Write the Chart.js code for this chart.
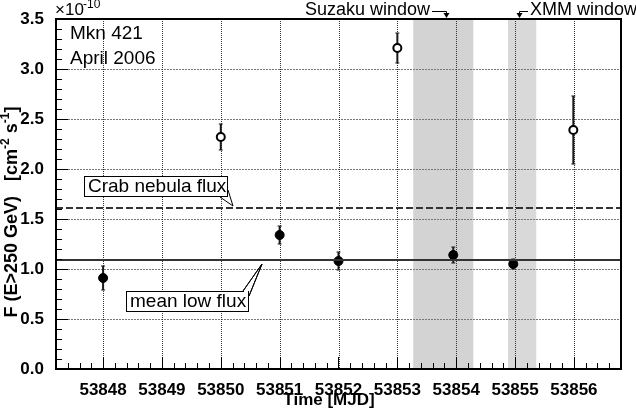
<!DOCTYPE html>
<html>
<head>
<meta charset="utf-8">
<script src="https://cdn.jsdelivr.net/npm/chart.js@4.4.1/dist/chart.umd.min.js"></script>
<style>
    html, body { margin: 0; padding: 0; background: #fff; }
    #wrap { width: 636px; height: 410px; }
</style>
</head>
<body>
<div id="wrap"><canvas id="lightCurve"></canvas></div>
<script>
// Mkn 421 nightly flux, units of 1e-10 cm^-2 s^-1
const lowTimes = [53848.0, 53851.0, 53852.0, 53853.95, 53854.97];
const lowFlux = [0.91, 1.34, 1.08, 1.14, 1.05];
const lowErr = [0.12, 0.09, 0.09, 0.08, 0.05];

const highTimes = [53850.0, 53853.0, 53855.99];
const highFlux = [2.32, 3.21, 2.39];
const highErr = [0.13, 0.15, 0.34];

const crabFlux = 1.61;
const meanLowFlux = 1.09;

const suzakuWindow = [53853.27, 53854.29];
const xmmWindow = [53854.88, 53855.36];

const timeRange = [53847.2, 53856.8];
const fluxRange = [0, 3.5];
const timeTicks = [53848, 53849, 53850, 53851, 53852, 53853, 53854, 53855, 53856];
const fluxTicks = [0, 0.5, 1.0, 1.5, 2.0, 2.5, 3.0, 3.5];

const FONT = "'Liberation Sans', Arial, Helvetica, sans-serif";

document.addEventListener('DOMContentLoaded', function() {
    const ctx = document.getElementById('lightCurve').getContext('2d');

    // grey observation windows, drawn first
    const windowBands = {
        id: 'windowBands',
        beforeDraw: function(chart) {
            const c = chart.ctx, x = chart.scales.x, a = chart.chartArea;
            c.save();
            c.fillStyle = '#d3d3d3';
            c.fillRect(x.getPixelForValue(suzakuWindow[0]), a.top,
                x.getPixelForValue(suzakuWindow[1]) - x.getPixelForValue(suzakuWindow[0]), a.bottom - a.top);
            c.fillStyle = '#d9d9d9';
            c.fillRect(x.getPixelForValue(xmmWindow[0]), a.top,
                x.getPixelForValue(xmmWindow[1]) - x.getPixelForValue(xmmWindow[0]), a.bottom - a.top);
            c.restore();
        }
    };

    // dotted grid on the major ticks, then vertical error bars
    const gridAndErrors = {
        id: 'gridAndErrors',
        beforeDatasetsDraw: function(chart) {
            const c = chart.ctx, x = chart.scales.x, y = chart.scales.y, a = chart.chartArea;
            c.save();
            c.beginPath();
            c.rect(a.left, a.top, a.right - a.left, a.bottom - a.top);
            c.clip();
            c.lineWidth = 1;
            c.strokeStyle = '#777';
            c.setLineDash([2, 1]);
            c.beginPath();
            y.ticks.forEach(function(t) {
                const py = Math.round(y.getPixelForValue(t.value)) + 0.5;
                c.moveTo(a.left, py);
                c.lineTo(a.right, py);
            });
            c.stroke();
            c.strokeStyle = '#333';
            c.setLineDash([1, 1]);
            c.beginPath();
            x.ticks.forEach(function(t) {
                const px = Math.round(x.getPixelForValue(t.value)) + 0.5;
                c.moveTo(px, a.top);
                c.lineTo(px, a.bottom);
            });
            c.stroke();
            c.setLineDash([]);

            const sets = [[lowTimes, lowFlux, lowErr], [highTimes, highFlux, highErr]];
            c.strokeStyle = '#1a1a1a';
            sets.forEach(function(s) {
                for (let i = 0; i < s[0].length; i++) {
                    const px = x.getPixelForValue(s[0][i]);
                    const top = y.getPixelForValue(s[1][i] + s[2][i]);
                    const bot = y.getPixelForValue(s[1][i] - s[2][i]);
                    c.lineWidth = 2;
                    c.beginPath();
                    c.moveTo(px, top);
                    c.lineTo(px, bot);
                    c.stroke();
                    c.lineWidth = 1;
                    c.beginPath();
                    c.moveTo(px - 2, top); c.lineTo(px + 2, top);
                    c.moveTo(px - 2, bot); c.lineTo(px + 2, bot);
                    c.stroke();
                }
            });
            c.restore();
        }
    };

    function callout(c, box, text, lines, tip) {
        c.fillStyle = '#fff';
        c.fillRect(box[0], box[1], box[2] - box[0], box[3] - box[1]);
        c.strokeStyle = '#000';
        c.lineWidth = 1;
        c.strokeRect(box[0] + 0.5, box[1] + 0.5, box[2] - box[0], box[3] - box[1]);
        c.beginPath();
        lines.forEach(function(p) {
            c.moveTo(p[0], p[1]);
            c.lineTo(tip[0], tip[1]);
        });
        c.stroke();
        c.fillStyle = '#000';
        c.font = '19px ' + FONT;
        c.textAlign = 'left';
        c.textBaseline = 'middle';
        c.fillText(text, box[0] + 4, (box[1] + box[3]) / 2 + 1);
    }

    function downArrow(c, xa, ya, yb) {
        c.beginPath();
        c.moveTo(xa, ya);
        c.lineTo(xa, yb - 4);
        c.stroke();
        c.beginPath();
        c.moveTo(xa - 3, yb - 5);
        c.lineTo(xa + 3, yb - 5);
        c.lineTo(xa, yb);
        c.closePath();
        c.fill();
    }

    // frame, inward ticks, labels and annotations
    const decorations = {
        id: 'decorations',
        afterDraw: function(chart) {
            const c = chart.ctx, a = chart.chartArea, x = chart.scales.x, y = chart.scales.y;
            c.save();
            c.strokeStyle = '#000';
            c.lineWidth = 1;
            c.beginPath();
            for (let v = timeRange[0]; v <= timeRange[1] + 1e-6; v += 0.2) {
                const px = Math.round(x.getPixelForValue(v)) + 0.5;
                const major = Math.abs(v - Math.round(v)) < 1e-6;
                c.moveTo(px, a.bottom);
                c.lineTo(px, a.bottom - (major ? 12 : 6));
            }
            for (let v = fluxRange[0]; v <= fluxRange[1] + 1e-6; v += 0.1) {
                const py = Math.round(y.getPixelForValue(v)) + 0.5;
                const major = Math.abs(v * 2 - Math.round(v * 2)) < 1e-6;
                c.moveTo(a.left, py);
                c.lineTo(a.left + (major ? 12 : 6), py);
            }
            c.stroke();

            c.lineWidth = 2;
            c.strokeRect(a.left, a.top, a.right - a.left, a.bottom - a.top);

            const yCrab = y.getPixelForValue(crabFlux);
            const yMean = y.getPixelForValue(meanLowFlux);
            callout(c, [84, 176, 227, 196], 'Crab nebula flux', [[220, 197], [228, 190]], [233, yCrab - 2]);
            callout(c, [126, 291, 248, 311], 'mean low flux', [[243, 291], [249, 296]], [262, yMean + 4]);
            c.fillStyle = '#fff';
            c.fillRect(244, 290, 4, 3);
            c.strokeStyle = '#000';
            c.beginPath();
            c.moveTo(243, 291); c.lineTo(262, yMean + 4);
            c.moveTo(249, 296); c.lineTo(262, yMean + 4);
            c.stroke();

            c.fillStyle = '#000';
            c.font = '19px ' + FONT;
            c.textAlign = 'left';
            c.textBaseline = 'middle';
            c.fillText('Mkn 421', 70, 34);
            c.fillText('April 2006', 70, 59);

            c.font = '18px ' + FONT;
            c.textAlign = 'right';
            c.fillText('Suzaku window', 430, 10);
            c.textAlign = 'left';
            c.fillText('XMM window', 530, 10);
            c.lineWidth = 1;
            c.beginPath();
            c.moveTo(432, 11.5); c.lineTo(446.5, 11.5);
            c.moveTo(528, 11.5); c.lineTo(519.5, 11.5);
            c.stroke();
            downArrow(c, 446.5, 11.5, 18);
            downArrow(c, 519.5, 11.5, 18);

            // axis multiplier
            c.textAlign = 'left';
            c.textBaseline = 'alphabetic';
            c.font = '17px ' + FONT;
            c.fillText('\u00d710', 55, 15);
            c.font = '12px ' + FONT;
            c.fillText('-10', 83, 8);

            // x title
            c.font = 'bold 17px ' + FONT;
            c.textAlign = 'center';
            c.textBaseline = 'alphabetic';
            c.fillText('Time [MJD]', 329, 405);

            // y title with superscripts
            const parts = [['F (E>250 GeV)   [cm', false], ['-2', true], [' s', false], ['-1', true], [']', false]];
            const big = 'bold 18px ' + FONT, small = 'bold 12px ' + FONT;
            let total = 0;
            parts.forEach(function(p) { c.font = p[1] ? small : big; total += c.measureText(p[0]).width; });
            c.translate(12, 212);
            c.rotate(-Math.PI / 2);
            c.textAlign = 'left';
            c.textBaseline = 'middle';
            let cx = -total / 2;
            parts.forEach(function(p) {
                c.font = p[1] ? small : big;
                c.fillText(p[0], cx, p[1] ? -6 : 0);
                cx += c.measureText(p[0]).width;
            });
            c.restore();
        }
    };

    const lineStyle = {
        type: 'line', showLine: true, pointRadius: 0, borderColor: '#333',
        borderWidth: 2, fill: false, tension: 0
    };

    new Chart(ctx, {
        type: 'scatter',
        data: {
            datasets: [
                Object.assign({
                    label: 'Crab nebula flux',
                    data: timeRange.map(function(t) { return {x: t, y: crabFlux}; }),
                    borderDash: [7, 3]
                }, lineStyle),
                Object.assign({
                    label: 'mean low flux',
                    data: timeRange.map(function(t) { return {x: t, y: meanLowFlux}; })
                }, lineStyle),
                {
                    label: 'low state',
                    data: lowTimes.map(function(t, i) { return {x: t, y: lowFlux[i]}; }),
                    pointRadius: 4.5,
                    pointBackgroundColor: '#000',
                    pointBorderColor: '#000',
                    pointBorderWidth: 1
                },
                {
                    label: 'high state',
                    data: highTimes.map(function(t, i) { return {x: t, y: highFlux[i]}; }),
                    pointRadius: 4,
                    pointBackgroundColor: '#fff',
                    pointBorderColor: '#000',
                    pointBorderWidth: 2
                }
            ]
        },
        options: {
            responsive: true,
            maintainAspectRatio: false,
            animation: false,
            layout: { padding: { top: 19, right: 15, left: 0, bottom: 0 } },
            plugins: { legend: { display: false }, tooltip: { enabled: false } },
            scales: {
                x: {
                    type: 'linear',
                    min: timeRange[0],
                    max: timeRange[1],
                    afterBuildTicks: function(scale) {
                        scale.ticks = timeTicks.map(function(v) { return {value: v}; });
                    },
                    afterFit: function(scale) { scale.height = 41; },
                    ticks: {
                        autoSkip: false,
                        maxRotation: 0,
                        padding: 3,
                        color: '#000',
                        font: { family: FONT, size: 17, weight: 'bold' },
                        callback: function(value) { return String(value); }
                    },
                    grid: { display: false },
                    border: { display: false }
                },
                y: {
                    type: 'linear',
                    min: fluxRange[0],
                    max: fluxRange[1],
                    afterBuildTicks: function(scale) {
                        scale.ticks = fluxTicks.map(function(v) { return {value: v}; });
                    },
                    afterFit: function(scale) { scale.width = 56; },
                    ticks: {
                        padding: 4,
                        color: '#000',
                        font: { family: FONT, size: 17, weight: 'bold' },
                        callback: function(value) { return value.toFixed(1); }
                    },
                    grid: { display: false },
                    border: { display: false }
                }
            }
        },
        plugins: [windowBands, gridAndErrors, decorations]
    });
});
</script>
</body>
</html>
